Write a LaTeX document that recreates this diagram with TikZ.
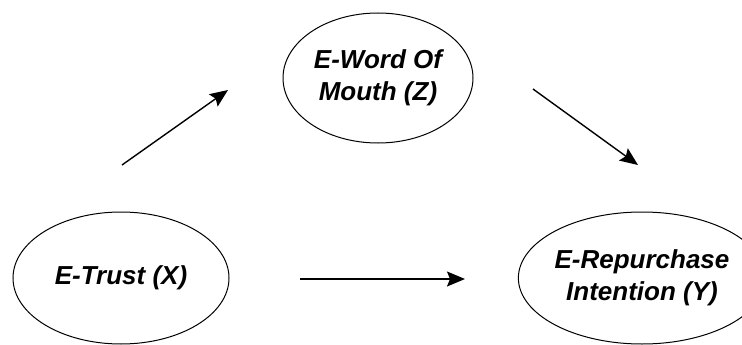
\documentclass[tikz,border=0pt]{standalone}
\usepackage{fontspec}
\setmainfont{Liberation Sans}
\usetikzlibrary{shapes.geometric,arrows.meta}
\tikzset{
  construct/.style={draw, ellipse, line width=1pt, inner sep=0pt, align=center,
    font=\fontsize{26}{32}\selectfont\bfseries\itshape},
  path arrow/.style={draw, line width=1.4pt, -{Stealth[length=18pt,width=15pt,inset=3pt]}}
}
\begin{document}
\begin{tikzpicture}[x=1pt,y=-1pt]
  \useasboundingbox (0,0) rectangle (742,345);
  % variables
  \node[construct, minimum width=216pt, minimum height=132pt] (X) at (121,278) {E-Trust (X)};
  \node[construct, minimum width=190pt, minimum height=130pt] (Z) at (378,78) {E-Word Of\\Mouth (Z)};
  \node[construct, minimum width=204pt, minimum height=132pt] (Y) at (642,278) {E-Repurchase\\Intention (Y)};
  % arrow ends
  \coordinate (xz1) at (122,165);
  \coordinate (xz2) at (228,90);
  \coordinate (zy1) at (533,89);
  \coordinate (zy2) at (638,165);
  \coordinate (xy1) at (300,279);
  \coordinate (xy2) at (465,279);
  % paths
  \draw[path arrow] (xz1) -- (xz2);
  \draw[path arrow] (zy1) -- (zy2);
  \draw[path arrow] (xy1) -- (xy2);
\end{tikzpicture}
\end{document}
